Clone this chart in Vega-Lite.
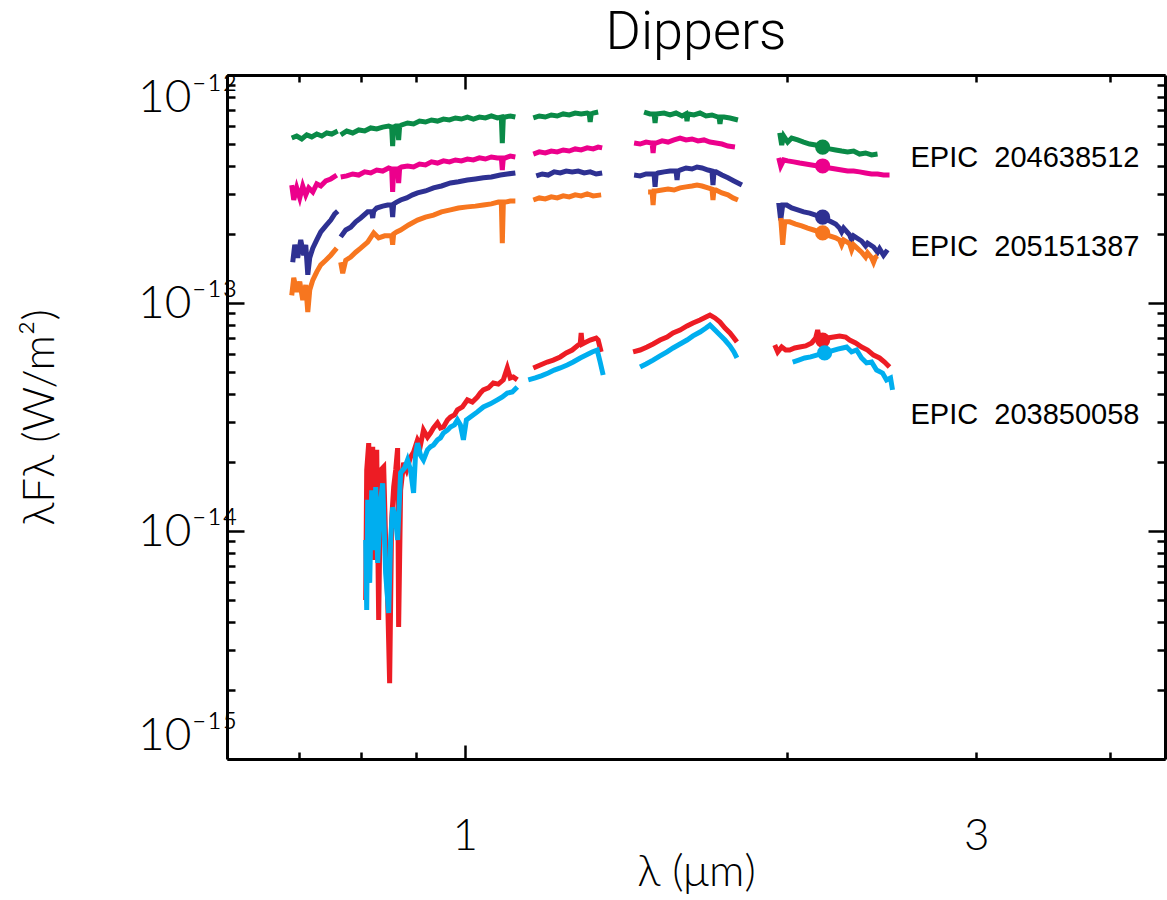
{
"$schema":"https://vega.github.io/schema/vega-lite/v6.json",
"width":938,"height":684,
"autosize":"none",
"padding":{"left":227,"top":75,"right":2,"bottom":141},
"background":"white",
"title":{"text":"Dippers","font":"Roboto","fontWeight":300,"fontSize":54,"color":"black","anchor":"middle","baseline":"alphabetic","offset":-29},
"config":{"view":{"stroke":null},"axis":{"grid":false,"labelColor":"black","tickColor":"black","domainColor":"black","titleColor":"black"}},
"datasets":{
"spec":[
{"s":"A1","g":1,"lam":0.6895,"flux":5.29e-13},{"s":"A1","g":1,"lam":0.6969,"flux":5.40e-13},{"s":"A1","g":1,"lam":0.7045,"flux":5.24e-13},{"s":"A1","g":1,"lam":0.7121,"flux":5.46e-13},{"s":"A1","g":1,"lam":0.7198,"flux":5.35e-13},{"s":"A1","g":1,"lam":0.7276,"flux":5.51e-13},{"s":"A1","g":1,"lam":0.7355,"flux":5.40e-13},{"s":"A1","g":1,"lam":0.7434,"flux":5.57e-13},{"s":"A1","g":1,"lam":0.7514,"flux":5.51e-13},{"s":"A1","g":1,"lam":0.7611,"flux":5.68e-13},
{"s":"A1","g":2,"lam":0.7660,"flux":5.46e-13},{"s":"A1","g":2,"lam":0.7760,"flux":5.68e-13},{"s":"A1","g":2,"lam":0.7860,"flux":5.57e-13},{"s":"A1","g":2,"lam":0.7962,"flux":5.74e-13},{"s":"A1","g":2,"lam":0.8065,"flux":5.68e-13},{"s":"A1","g":2,"lam":0.8170,"flux":5.86e-13},{"s":"A1","g":2,"lam":0.8276,"flux":5.80e-13},{"s":"A1","g":2,"lam":0.8383,"flux":5.91e-13},{"s":"A1","g":2,"lam":0.8491,"flux":5.97e-13},{"s":"A1","g":2,"lam":0.8546,"flux":5.91e-13},{"s":"A1","g":2,"lam":0.8564,"flux":4.88e-13},{"s":"A1","g":2,"lam":0.8583,"flux":5.91e-13},{"s":"A1","g":2,"lam":0.8620,"flux":5.97e-13},{"s":"A1","g":2,"lam":0.8656,"flux":5.97e-13},{"s":"A1","g":2,"lam":0.8675,"flux":5.19e-13},{"s":"A1","g":2,"lam":0.8694,"flux":5.97e-13},{"s":"A1","g":2,"lam":0.8731,"flux":6.04e-13},{"s":"A1","g":2,"lam":0.8843,"flux":6.16e-13},{"s":"A1","g":2,"lam":0.8958,"flux":6.10e-13},{"s":"A1","g":2,"lam":0.9073,"flux":6.28e-13},{"s":"A1","g":2,"lam":0.9190,"flux":6.22e-13},{"s":"A1","g":2,"lam":0.9309,"flux":6.35e-13},{"s":"A1","g":2,"lam":0.9430,"flux":6.28e-13},{"s":"A1","g":2,"lam":0.9552,"flux":6.41e-13},{"s":"A1","g":2,"lam":0.9675,"flux":6.35e-13},{"s":"A1","g":2,"lam":0.9801,"flux":6.48e-13},{"s":"A1","g":2,"lam":0.9927,"flux":6.41e-13},{"s":"A1","g":2,"lam":1.0056,"flux":6.54e-13},{"s":"A1","g":2,"lam":1.0186,"flux":6.41e-13},{"s":"A1","g":2,"lam":1.0318,"flux":6.54e-13},{"s":"A1","g":2,"lam":1.0452,"flux":6.48e-13},{"s":"A1","g":2,"lam":1.0587,"flux":6.61e-13},{"s":"A1","g":2,"lam":1.0724,"flux":6.48e-13},{"s":"A1","g":2,"lam":1.0816,"flux":6.54e-13},{"s":"A1","g":2,"lam":1.0839,"flux":5.03e-13},{"s":"A1","g":2,"lam":1.0863,"flux":6.54e-13},{"s":"A1","g":2,"lam":1.0909,"flux":6.54e-13},{"s":"A1","g":2,"lam":1.1026,"flux":6.61e-13},{"s":"A1","g":2,"lam":1.1147,"flux":6.54e-13},
{"s":"A1","g":3,"lam":1.1585,"flux":6.48e-13},{"s":"A1","g":3,"lam":1.1735,"flux":6.61e-13},{"s":"A1","g":3,"lam":1.1887,"flux":6.54e-13},{"s":"A1","g":3,"lam":1.2041,"flux":6.68e-13},{"s":"A1","g":3,"lam":1.2196,"flux":6.61e-13},{"s":"A1","g":3,"lam":1.2354,"flux":6.75e-13},{"s":"A1","g":3,"lam":1.2514,"flux":6.68e-13},{"s":"A1","g":3,"lam":1.2676,"flux":6.81e-13},{"s":"A1","g":3,"lam":1.2840,"flux":6.75e-13},{"s":"A1","g":3,"lam":1.3007,"flux":6.81e-13},{"s":"A1","g":3,"lam":1.3063,"flux":6.75e-13},{"s":"A1","g":3,"lam":1.3091,"flux":6.22e-13},{"s":"A1","g":3,"lam":1.3119,"flux":6.75e-13},{"s":"A1","g":3,"lam":1.3175,"flux":6.81e-13},{"s":"A1","g":3,"lam":1.3317,"flux":6.88e-13},
{"s":"A1","g":4,"lam":1.4698,"flux":6.88e-13},{"s":"A1","g":4,"lam":1.4888,"flux":6.75e-13},{"s":"A1","g":4,"lam":1.5017,"flux":6.75e-13},{"s":"A1","g":4,"lam":1.5049,"flux":6.16e-13},{"s":"A1","g":4,"lam":1.5081,"flux":6.75e-13},{"s":"A1","g":4,"lam":1.5343,"flux":6.81e-13},{"s":"A1","g":4,"lam":1.5541,"flux":6.68e-13},{"s":"A1","g":4,"lam":1.5742,"flux":6.81e-13},{"s":"A1","g":4,"lam":1.5946,"flux":6.61e-13},{"s":"A1","g":4,"lam":1.6083,"flux":6.75e-13},{"s":"A1","g":4,"lam":1.6118,"flux":6.28e-13},{"s":"A1","g":4,"lam":1.6152,"flux":6.75e-13},{"s":"A1","g":4,"lam":1.6361,"flux":6.68e-13},{"s":"A1","g":4,"lam":1.6573,"flux":6.81e-13},{"s":"A1","g":4,"lam":1.6788,"flux":6.61e-13},{"s":"A1","g":4,"lam":1.7005,"flux":6.68e-13},{"s":"A1","g":4,"lam":1.7226,"flux":6.54e-13},{"s":"A1","g":4,"lam":1.7263,"flux":6.54e-13},{"s":"A1","g":4,"lam":1.7300,"flux":6.10e-13},{"s":"A1","g":4,"lam":1.7337,"flux":6.54e-13},{"s":"A1","g":4,"lam":1.7449,"flux":6.54e-13},{"s":"A1","g":4,"lam":1.7675,"flux":6.48e-13},{"s":"A1","g":4,"lam":1.7981,"flux":6.35e-13},
{"s":"A1","g":5,"lam":1.9669,"flux":5.57e-13},{"s":"A1","g":5,"lam":1.9753,"flux":4.93e-13},{"s":"A1","g":5,"lam":1.9838,"flux":5.40e-13},{"s":"A1","g":5,"lam":2.0009,"flux":5.08e-13},{"s":"A1","g":5,"lam":2.0181,"flux":5.29e-13},{"s":"A1","g":5,"lam":2.0443,"flux":5.19e-13},{"s":"A1","g":5,"lam":2.0708,"flux":5.08e-13},{"s":"A1","g":5,"lam":2.0976,"flux":4.98e-13},{"s":"A1","g":5,"lam":2.1248,"flux":4.93e-13},{"s":"A1","g":5,"lam":2.1569,"flux":4.83e-13},{"s":"A1","g":5,"lam":2.1896,"flux":4.74e-13},{"s":"A1","g":5,"lam":2.2179,"flux":4.69e-13},{"s":"A1","g":5,"lam":2.2467,"flux":4.64e-13},{"s":"A1","g":5,"lam":2.2757,"flux":4.60e-13},{"s":"A1","g":5,"lam":2.3052,"flux":4.64e-13},{"s":"A1","g":5,"lam":2.3350,"flux":4.50e-13},{"s":"A1","g":5,"lam":2.3652,"flux":4.55e-13},{"s":"A1","g":5,"lam":2.3959,"flux":4.46e-13},{"s":"A1","g":5,"lam":2.4269,"flux":4.50e-13},
{"s":"A2","g":1,"lam":0.6895,"flux":3.29e-13},{"s":"A2","g":1,"lam":0.6925,"flux":2.83e-13},{"s":"A2","g":1,"lam":0.6969,"flux":3.20e-13},{"s":"A2","g":1,"lam":0.7015,"flux":2.89e-13},{"s":"A2","g":1,"lam":0.7060,"flux":3.26e-13},{"s":"A2","g":1,"lam":0.7106,"flux":2.98e-13},{"s":"A2","g":1,"lam":0.7152,"flux":3.20e-13},{"s":"A2","g":1,"lam":0.7214,"flux":3.07e-13},{"s":"A2","g":1,"lam":0.7276,"flux":3.33e-13},{"s":"A2","g":1,"lam":0.7339,"flux":3.26e-13},{"s":"A2","g":1,"lam":0.7418,"flux":3.43e-13},{"s":"A2","g":1,"lam":0.7498,"flux":3.50e-13},{"s":"A2","g":1,"lam":0.7595,"flux":3.64e-13},
{"s":"A2","g":2,"lam":0.7660,"flux":3.57e-13},{"s":"A2","g":2,"lam":0.7760,"flux":3.61e-13},{"s":"A2","g":2,"lam":0.7860,"flux":3.68e-13},{"s":"A2","g":2,"lam":0.7962,"flux":3.64e-13},{"s":"A2","g":2,"lam":0.8065,"flux":3.76e-13},{"s":"A2","g":2,"lam":0.8170,"flux":3.72e-13},{"s":"A2","g":2,"lam":0.8276,"flux":3.83e-13},{"s":"A2","g":2,"lam":0.8383,"flux":3.79e-13},{"s":"A2","g":2,"lam":0.8491,"flux":3.91e-13},{"s":"A2","g":2,"lam":0.8546,"flux":3.87e-13},{"s":"A2","g":2,"lam":0.8564,"flux":3.07e-13},{"s":"A2","g":2,"lam":0.8583,"flux":3.87e-13},{"s":"A2","g":2,"lam":0.8620,"flux":3.87e-13},{"s":"A2","g":2,"lam":0.8656,"flux":3.87e-13},{"s":"A2","g":2,"lam":0.8675,"flux":3.36e-13},{"s":"A2","g":2,"lam":0.8694,"flux":3.91e-13},{"s":"A2","g":2,"lam":0.8731,"flux":3.95e-13},{"s":"A2","g":2,"lam":0.8843,"flux":3.99e-13},{"s":"A2","g":2,"lam":0.8958,"flux":3.95e-13},{"s":"A2","g":2,"lam":0.9073,"flux":4.07e-13},{"s":"A2","g":2,"lam":0.9190,"flux":4.03e-13},{"s":"A2","g":2,"lam":0.9309,"flux":4.16e-13},{"s":"A2","g":2,"lam":0.9430,"flux":4.11e-13},{"s":"A2","g":2,"lam":0.9552,"flux":4.20e-13},{"s":"A2","g":2,"lam":0.9675,"flux":4.16e-13},{"s":"A2","g":2,"lam":0.9801,"flux":4.24e-13},{"s":"A2","g":2,"lam":0.9927,"flux":4.20e-13},{"s":"A2","g":2,"lam":1.0056,"flux":4.28e-13},{"s":"A2","g":2,"lam":1.0186,"flux":4.24e-13},{"s":"A2","g":2,"lam":1.0318,"flux":4.33e-13},{"s":"A2","g":2,"lam":1.0452,"flux":4.28e-13},{"s":"A2","g":2,"lam":1.0587,"flux":4.37e-13},{"s":"A2","g":2,"lam":1.0724,"flux":4.33e-13},{"s":"A2","g":2,"lam":1.0816,"flux":4.33e-13},{"s":"A2","g":2,"lam":1.0839,"flux":3.83e-13},{"s":"A2","g":2,"lam":1.0863,"flux":4.33e-13},{"s":"A2","g":2,"lam":1.0909,"flux":4.33e-13},{"s":"A2","g":2,"lam":1.1026,"flux":4.41e-13},{"s":"A2","g":2,"lam":1.1147,"flux":4.37e-13},
{"s":"A2","g":3,"lam":1.1585,"flux":4.50e-13},{"s":"A2","g":3,"lam":1.1735,"flux":4.60e-13},{"s":"A2","g":3,"lam":1.1887,"flux":4.55e-13},{"s":"A2","g":3,"lam":1.2041,"flux":4.64e-13},{"s":"A2","g":3,"lam":1.2196,"flux":4.60e-13},{"s":"A2","g":3,"lam":1.2354,"flux":4.69e-13},{"s":"A2","g":3,"lam":1.2514,"flux":4.64e-13},{"s":"A2","g":3,"lam":1.2676,"flux":4.74e-13},{"s":"A2","g":3,"lam":1.2840,"flux":4.69e-13},{"s":"A2","g":3,"lam":1.3007,"flux":4.79e-13},{"s":"A2","g":3,"lam":1.3175,"flux":4.74e-13},{"s":"A2","g":3,"lam":1.3317,"flux":4.83e-13},{"s":"A2","g":3,"lam":1.3432,"flux":4.79e-13},
{"s":"A2","g":4,"lam":1.4386,"flux":5.03e-13},{"s":"A2","g":4,"lam":1.4572,"flux":4.98e-13},{"s":"A2","g":4,"lam":1.4761,"flux":5.08e-13},{"s":"A2","g":4,"lam":1.4953,"flux":5.03e-13},{"s":"A2","g":4,"lam":1.4985,"flux":4.55e-13},{"s":"A2","g":4,"lam":1.5017,"flux":5.03e-13},{"s":"A2","g":4,"lam":1.5081,"flux":5.03e-13},{"s":"A2","g":4,"lam":1.5277,"flux":5.14e-13},{"s":"A2","g":4,"lam":1.5474,"flux":5.08e-13},{"s":"A2","g":4,"lam":1.5675,"flux":5.19e-13},{"s":"A2","g":4,"lam":1.5878,"flux":5.29e-13},{"s":"A2","g":4,"lam":1.6083,"flux":5.19e-13},{"s":"A2","g":4,"lam":1.6291,"flux":5.24e-13},{"s":"A2","g":4,"lam":1.6502,"flux":5.14e-13},{"s":"A2","g":4,"lam":1.6716,"flux":5.19e-13},{"s":"A2","g":4,"lam":1.6932,"flux":5.08e-13},{"s":"A2","g":4,"lam":1.7152,"flux":5.03e-13},{"s":"A2","g":4,"lam":1.7374,"flux":4.98e-13},{"s":"A2","g":4,"lam":1.7599,"flux":4.88e-13},{"s":"A2","g":4,"lam":1.7866,"flux":4.83e-13},
{"s":"A2","g":5,"lam":1.9627,"flux":4.33e-13},{"s":"A2","g":5,"lam":1.9711,"flux":3.99e-13},{"s":"A2","g":5,"lam":1.9838,"flux":4.24e-13},{"s":"A2","g":5,"lam":2.0009,"flux":4.20e-13},{"s":"A2","g":5,"lam":2.0268,"flux":4.16e-13},{"s":"A2","g":5,"lam":2.0531,"flux":4.11e-13},{"s":"A2","g":5,"lam":2.0797,"flux":4.07e-13},{"s":"A2","g":5,"lam":2.1066,"flux":4.03e-13},{"s":"A2","g":5,"lam":2.1339,"flux":3.99e-13},{"s":"A2","g":5,"lam":2.1569,"flux":3.99e-13},{"s":"A2","g":5,"lam":2.1896,"flux":3.91e-13},{"s":"A2","g":5,"lam":2.2179,"flux":3.87e-13},{"s":"A2","g":5,"lam":2.2467,"flux":3.83e-13},{"s":"A2","g":5,"lam":2.2757,"flux":3.79e-13},{"s":"A2","g":5,"lam":2.3052,"flux":3.79e-13},{"s":"A2","g":5,"lam":2.3350,"flux":3.76e-13},{"s":"A2","g":5,"lam":2.3652,"flux":3.72e-13},{"s":"A2","g":5,"lam":2.3959,"flux":3.68e-13},{"s":"A2","g":5,"lam":2.4269,"flux":3.68e-13},{"s":"A2","g":5,"lam":2.4583,"flux":3.64e-13},{"s":"A2","g":5,"lam":2.4901,"flux":3.64e-13},
{"s":"B1","g":1,"lam":0.6910,"flux":1.51e-13},{"s":"B1","g":1,"lam":0.6940,"flux":1.80e-13},{"s":"B1","g":1,"lam":0.6984,"flux":1.58e-13},{"s":"B1","g":1,"lam":0.7030,"flux":1.89e-13},{"s":"B1","g":1,"lam":0.7075,"flux":1.62e-13},{"s":"B1","g":1,"lam":0.7106,"flux":1.80e-13},{"s":"B1","g":1,"lam":0.7137,"flux":1.33e-13},{"s":"B1","g":1,"lam":0.7167,"flux":1.58e-13},{"s":"B1","g":1,"lam":0.7214,"flux":1.74e-13},{"s":"B1","g":1,"lam":0.7276,"flux":1.89e-13},{"s":"B1","g":1,"lam":0.7339,"flux":2.05e-13},{"s":"B1","g":1,"lam":0.7418,"flux":2.18e-13},{"s":"B1","g":1,"lam":0.7498,"flux":2.31e-13},{"s":"B1","g":1,"lam":0.7562,"flux":2.46e-13},{"s":"B1","g":1,"lam":0.7611,"flux":2.53e-13},
{"s":"B1","g":2,"lam":0.7660,"flux":1.95e-13},{"s":"B1","g":2,"lam":0.7743,"flux":2.09e-13},{"s":"B1","g":2,"lam":0.7826,"flux":2.15e-13},{"s":"B1","g":2,"lam":0.7911,"flux":2.27e-13},{"s":"B1","g":2,"lam":0.7996,"flux":2.36e-13},{"s":"B1","g":2,"lam":0.8117,"flux":2.51e-13},{"s":"B1","g":2,"lam":0.8187,"flux":2.51e-13},{"s":"B1","g":2,"lam":0.8205,"flux":2.36e-13},{"s":"B1","g":2,"lam":0.8223,"flux":2.53e-13},{"s":"B1","g":2,"lam":0.8276,"flux":2.61e-13},{"s":"B1","g":2,"lam":0.8383,"flux":2.66e-13},{"s":"B1","g":2,"lam":0.8473,"flux":2.69e-13},{"s":"B1","g":2,"lam":0.8546,"flux":2.69e-13},{"s":"B1","g":2,"lam":0.8564,"flux":2.38e-13},{"s":"B1","g":2,"lam":0.8583,"flux":2.72e-13},{"s":"B1","g":2,"lam":0.8638,"flux":2.77e-13},{"s":"B1","g":2,"lam":0.8712,"flux":2.83e-13},{"s":"B1","g":2,"lam":0.8825,"flux":2.89e-13},{"s":"B1","g":2,"lam":0.8939,"flux":2.98e-13},{"s":"B1","g":2,"lam":0.9034,"flux":3.04e-13},{"s":"B1","g":2,"lam":0.9190,"flux":3.10e-13},{"s":"B1","g":2,"lam":0.9349,"flux":3.20e-13},{"s":"B1","g":2,"lam":0.9511,"flux":3.26e-13},{"s":"B1","g":2,"lam":0.9696,"flux":3.36e-13},{"s":"B1","g":2,"lam":0.9864,"flux":3.40e-13},{"s":"B1","g":2,"lam":1.0056,"flux":3.46e-13},{"s":"B1","g":2,"lam":1.0230,"flux":3.50e-13},{"s":"B1","g":2,"lam":1.0407,"flux":3.54e-13},{"s":"B1","g":2,"lam":1.0587,"flux":3.57e-13},{"s":"B1","g":2,"lam":1.0793,"flux":3.64e-13},{"s":"B1","g":2,"lam":1.0956,"flux":3.68e-13},{"s":"B1","g":2,"lam":1.1147,"flux":3.72e-13},
{"s":"B1","g":3,"lam":1.1659,"flux":3.61e-13},{"s":"B1","g":3,"lam":1.1810,"flux":3.68e-13},{"s":"B1","g":3,"lam":1.1963,"flux":3.64e-13},{"s":"B1","g":3,"lam":1.2118,"flux":3.76e-13},{"s":"B1","g":3,"lam":1.2275,"flux":3.72e-13},{"s":"B1","g":3,"lam":1.2434,"flux":3.79e-13},{"s":"B1","g":3,"lam":1.2595,"flux":3.76e-13},{"s":"B1","g":3,"lam":1.2758,"flux":3.79e-13},{"s":"B1","g":3,"lam":1.2923,"flux":3.72e-13},{"s":"B1","g":3,"lam":1.3091,"flux":3.76e-13},{"s":"B1","g":3,"lam":1.3260,"flux":3.68e-13},{"s":"B1","g":3,"lam":1.3432,"flux":3.72e-13},
{"s":"B1","g":4,"lam":1.4386,"flux":3.64e-13},{"s":"B1","g":4,"lam":1.4572,"flux":3.61e-13},{"s":"B1","g":4,"lam":1.4761,"flux":3.68e-13},{"s":"B1","g":4,"lam":1.5017,"flux":3.68e-13},{"s":"B1","g":4,"lam":1.5049,"flux":3.23e-13},{"s":"B1","g":4,"lam":1.5081,"flux":3.68e-13},{"s":"B1","g":4,"lam":1.5146,"flux":3.72e-13},{"s":"B1","g":4,"lam":1.5343,"flux":3.76e-13},{"s":"B1","g":4,"lam":1.5541,"flux":3.79e-13},{"s":"B1","g":4,"lam":1.5742,"flux":3.79e-13},{"s":"B1","g":4,"lam":1.5776,"flux":3.46e-13},{"s":"B1","g":4,"lam":1.5810,"flux":3.79e-13},{"s":"B1","g":4,"lam":1.5878,"flux":3.83e-13},{"s":"B1","g":4,"lam":1.6083,"flux":3.91e-13},{"s":"B1","g":4,"lam":1.6291,"flux":3.87e-13},{"s":"B1","g":4,"lam":1.6467,"flux":3.95e-13},{"s":"B1","g":4,"lam":1.6644,"flux":3.91e-13},{"s":"B1","g":4,"lam":1.6860,"flux":3.83e-13},{"s":"B1","g":4,"lam":1.7005,"flux":3.79e-13},{"s":"B1","g":4,"lam":1.7042,"flux":3.29e-13},{"s":"B1","g":4,"lam":1.7079,"flux":3.76e-13},{"s":"B1","g":4,"lam":1.7152,"flux":3.76e-13},{"s":"B1","g":4,"lam":1.7374,"flux":3.64e-13},{"s":"B1","g":4,"lam":1.7599,"flux":3.54e-13},{"s":"B1","g":4,"lam":1.7827,"flux":3.43e-13},{"s":"B1","g":4,"lam":1.8135,"flux":3.29e-13},
{"s":"B1","g":5,"lam":1.9627,"flux":2.75e-13},{"s":"B1","g":5,"lam":1.9711,"flux":2.31e-13},{"s":"B1","g":5,"lam":1.9796,"flux":2.69e-13},{"s":"B1","g":5,"lam":1.9966,"flux":2.69e-13},{"s":"B1","g":5,"lam":2.0181,"flux":2.61e-13},{"s":"B1","g":5,"lam":2.0443,"flux":2.56e-13},{"s":"B1","g":5,"lam":2.0708,"flux":2.51e-13},{"s":"B1","g":5,"lam":2.0976,"flux":2.48e-13},{"s":"B1","g":5,"lam":2.1248,"flux":2.43e-13},{"s":"B1","g":5,"lam":2.1569,"flux":2.38e-13},{"s":"B1","g":5,"lam":2.1896,"flux":2.29e-13},{"s":"B1","g":5,"lam":2.2179,"flux":2.22e-13},{"s":"B1","g":5,"lam":2.2370,"flux":2.13e-13},{"s":"B1","g":5,"lam":2.2467,"flux":2.05e-13},{"s":"B1","g":5,"lam":2.2563,"flux":2.13e-13},{"s":"B1","g":5,"lam":2.2855,"flux":1.99e-13},{"s":"B1","g":5,"lam":2.2953,"flux":1.89e-13},{"s":"B1","g":5,"lam":2.3052,"flux":1.97e-13},{"s":"B1","g":5,"lam":2.3450,"flux":1.87e-13},{"s":"B1","g":5,"lam":2.3652,"flux":1.78e-13},{"s":"B1","g":5,"lam":2.3754,"flux":1.83e-13},{"s":"B1","g":5,"lam":2.4062,"flux":1.76e-13},{"s":"B1","g":5,"lam":2.4269,"flux":1.67e-13},{"s":"B1","g":5,"lam":2.4373,"flux":1.73e-13},{"s":"B1","g":5,"lam":2.4583,"flux":1.62e-13},{"s":"B1","g":5,"lam":2.4794,"flux":1.71e-13},
{"s":"B2","g":1,"lam":0.6895,"flux":1.08e-13},{"s":"B2","g":1,"lam":0.6925,"flux":1.29e-13},{"s":"B2","g":1,"lam":0.6969,"flux":1.12e-13},{"s":"B2","g":1,"lam":0.7015,"flux":1.24e-13},{"s":"B2","g":1,"lam":0.7060,"flux":1.03e-13},{"s":"B2","g":1,"lam":0.7106,"flux":1.20e-13},{"s":"B2","g":1,"lam":0.7137,"flux":9.13e-14},{"s":"B2","g":1,"lam":0.7167,"flux":1.14e-13},{"s":"B2","g":1,"lam":0.7214,"flux":1.26e-13},{"s":"B2","g":1,"lam":0.7276,"flux":1.37e-13},{"s":"B2","g":1,"lam":0.7339,"flux":1.47e-13},{"s":"B2","g":1,"lam":0.7418,"flux":1.54e-13},{"s":"B2","g":1,"lam":0.7498,"flux":1.62e-13},{"s":"B2","g":1,"lam":0.7595,"flux":1.74e-13},
{"s":"B2","g":2,"lam":0.7660,"flux":1.51e-13},{"s":"B2","g":2,"lam":0.7693,"flux":1.35e-13},{"s":"B2","g":2,"lam":0.7743,"flux":1.54e-13},{"s":"B2","g":2,"lam":0.7826,"flux":1.59e-13},{"s":"B2","g":2,"lam":0.7911,"flux":1.67e-13},{"s":"B2","g":2,"lam":0.7996,"flux":1.74e-13},{"s":"B2","g":2,"lam":0.8117,"flux":1.85e-13},{"s":"B2","g":2,"lam":0.8223,"flux":2.03e-13},{"s":"B2","g":2,"lam":0.8311,"flux":1.93e-13},{"s":"B2","g":2,"lam":0.8419,"flux":1.97e-13},{"s":"B2","g":2,"lam":0.8546,"flux":1.97e-13},{"s":"B2","g":2,"lam":0.8564,"flux":1.80e-13},{"s":"B2","g":2,"lam":0.8583,"flux":2.01e-13},{"s":"B2","g":2,"lam":0.8638,"flux":2.05e-13},{"s":"B2","g":2,"lam":0.8712,"flux":2.09e-13},{"s":"B2","g":2,"lam":0.8862,"flux":2.20e-13},{"s":"B2","g":2,"lam":0.9034,"flux":2.31e-13},{"s":"B2","g":2,"lam":0.9190,"flux":2.38e-13},{"s":"B2","g":2,"lam":0.9349,"flux":2.43e-13},{"s":"B2","g":2,"lam":0.9511,"flux":2.51e-13},{"s":"B2","g":2,"lam":0.9696,"flux":2.56e-13},{"s":"B2","g":2,"lam":0.9864,"flux":2.61e-13},{"s":"B2","g":2,"lam":1.0056,"flux":2.64e-13},{"s":"B2","g":2,"lam":1.0230,"flux":2.66e-13},{"s":"B2","g":2,"lam":1.0407,"flux":2.69e-13},{"s":"B2","g":2,"lam":1.0587,"flux":2.72e-13},{"s":"B2","g":2,"lam":1.0747,"flux":2.77e-13},{"s":"B2","g":2,"lam":1.0816,"flux":2.77e-13},{"s":"B2","g":2,"lam":1.0839,"flux":1.83e-13},{"s":"B2","g":2,"lam":1.0863,"flux":2.77e-13},{"s":"B2","g":2,"lam":1.0909,"flux":2.77e-13},{"s":"B2","g":2,"lam":1.1026,"flux":2.80e-13},{"s":"B2","g":2,"lam":1.1147,"flux":2.80e-13},
{"s":"B2","g":3,"lam":1.1585,"flux":2.83e-13},{"s":"B2","g":3,"lam":1.1735,"flux":2.89e-13},{"s":"B2","g":3,"lam":1.1887,"flux":2.86e-13},{"s":"B2","g":3,"lam":1.2041,"flux":2.92e-13},{"s":"B2","g":3,"lam":1.2196,"flux":2.89e-13},{"s":"B2","g":3,"lam":1.2354,"flux":2.95e-13},{"s":"B2","g":3,"lam":1.2514,"flux":2.92e-13},{"s":"B2","g":3,"lam":1.2676,"flux":2.98e-13},{"s":"B2","g":3,"lam":1.2840,"flux":2.95e-13},{"s":"B2","g":3,"lam":1.3007,"flux":3.01e-13},{"s":"B2","g":3,"lam":1.3175,"flux":2.95e-13},{"s":"B2","g":3,"lam":1.3403,"flux":2.98e-13},
{"s":"B2","g":4,"lam":1.4825,"flux":3.07e-13},{"s":"B2","g":4,"lam":1.4953,"flux":3.07e-13},{"s":"B2","g":4,"lam":1.4985,"flux":2.69e-13},{"s":"B2","g":4,"lam":1.5017,"flux":3.10e-13},{"s":"B2","g":4,"lam":1.5081,"flux":3.10e-13},{"s":"B2","g":4,"lam":1.5277,"flux":3.13e-13},{"s":"B2","g":4,"lam":1.5474,"flux":3.16e-13},{"s":"B2","g":4,"lam":1.5675,"flux":3.13e-13},{"s":"B2","g":4,"lam":1.5878,"flux":3.20e-13},{"s":"B2","g":4,"lam":1.6083,"flux":3.23e-13},{"s":"B2","g":4,"lam":1.6291,"flux":3.26e-13},{"s":"B2","g":4,"lam":1.6467,"flux":3.29e-13},{"s":"B2","g":4,"lam":1.6644,"flux":3.26e-13},{"s":"B2","g":4,"lam":1.6860,"flux":3.20e-13},{"s":"B2","g":4,"lam":1.7005,"flux":3.16e-13},{"s":"B2","g":4,"lam":1.7042,"flux":2.83e-13},{"s":"B2","g":4,"lam":1.7079,"flux":3.13e-13},{"s":"B2","g":4,"lam":1.7152,"flux":3.13e-13},{"s":"B2","g":4,"lam":1.7374,"flux":3.04e-13},{"s":"B2","g":4,"lam":1.7599,"flux":2.98e-13},{"s":"B2","g":4,"lam":1.7789,"flux":2.89e-13},{"s":"B2","g":4,"lam":1.7981,"flux":2.83e-13},
{"s":"B2","g":5,"lam":1.9711,"flux":2.36e-13},{"s":"B2","g":5,"lam":1.9796,"flux":1.80e-13},{"s":"B2","g":5,"lam":1.9881,"flux":2.27e-13},{"s":"B2","g":5,"lam":2.0095,"flux":2.27e-13},{"s":"B2","g":5,"lam":2.0355,"flux":2.22e-13},{"s":"B2","g":5,"lam":2.0619,"flux":2.18e-13},{"s":"B2","g":5,"lam":2.0886,"flux":2.13e-13},{"s":"B2","g":5,"lam":2.1157,"flux":2.09e-13},{"s":"B2","g":5,"lam":2.1569,"flux":2.03e-13},{"s":"B2","g":5,"lam":2.1896,"flux":1.97e-13},{"s":"B2","g":5,"lam":2.2179,"flux":1.93e-13},{"s":"B2","g":5,"lam":2.2370,"flux":1.89e-13},{"s":"B2","g":5,"lam":2.2467,"flux":1.80e-13},{"s":"B2","g":5,"lam":2.2563,"flux":1.89e-13},{"s":"B2","g":5,"lam":2.2855,"flux":1.82e-13},{"s":"B2","g":5,"lam":2.2953,"flux":1.71e-13},{"s":"B2","g":5,"lam":2.3052,"flux":1.80e-13},{"s":"B2","g":5,"lam":2.3450,"flux":1.67e-13},{"s":"B2","g":5,"lam":2.3652,"flux":1.59e-13},{"s":"B2","g":5,"lam":2.3754,"flux":1.66e-13},{"s":"B2","g":5,"lam":2.3959,"flux":1.58e-13},{"s":"B2","g":5,"lam":2.4062,"flux":1.51e-13},{"s":"B2","g":5,"lam":2.4166,"flux":1.59e-13},{"s":"B2","g":5,"lam":2.4269,"flux":1.61e-13},
{"s":"C1","g":1,"lam":0.8082,"flux":4.98e-15},{"s":"C1","g":1,"lam":0.8100,"flux":1.85e-14},{"s":"C1","g":1,"lam":0.8135,"flux":2.43e-14},{"s":"C1","g":1,"lam":0.8170,"flux":1.12e-14},{"s":"C1","g":1,"lam":0.8205,"flux":2.34e-14},{"s":"C1","g":1,"lam":0.8240,"flux":7.46e-15},{"s":"C1","g":1,"lam":0.8276,"flux":2.27e-14},{"s":"C1","g":1,"lam":0.8311,"flux":4.07e-15},{"s":"C1","g":1,"lam":0.8347,"flux":1.85e-14},{"s":"C1","g":1,"lam":0.8401,"flux":1.91e-14},{"s":"C1","g":1,"lam":0.8436,"flux":9.13e-15},{"s":"C1","g":1,"lam":0.8473,"flux":4.98e-15},{"s":"C1","g":1,"lam":0.8509,"flux":2.15e-15},{"s":"C1","g":1,"lam":0.8546,"flux":1.12e-14},{"s":"C1","g":1,"lam":0.8583,"flux":1.56e-14},{"s":"C1","g":1,"lam":0.8620,"flux":1.85e-14},{"s":"C1","g":1,"lam":0.8656,"flux":2.31e-14},{"s":"C1","g":1,"lam":0.8675,"flux":3.79e-15},{"s":"C1","g":1,"lam":0.8712,"flux":1.51e-14},{"s":"C1","g":1,"lam":0.8768,"flux":1.99e-14},{"s":"C1","g":1,"lam":0.8825,"flux":1.85e-14},{"s":"C1","g":1,"lam":0.8900,"flux":2.11e-14},{"s":"C1","g":1,"lam":0.8958,"flux":2.22e-14},{"s":"C1","g":1,"lam":0.9034,"flux":2.51e-14},{"s":"C1","g":1,"lam":0.9092,"flux":2.38e-14},{"s":"C1","g":1,"lam":0.9151,"flux":2.77e-14},{"s":"C1","g":1,"lam":0.9230,"flux":2.58e-14},{"s":"C1","g":1,"lam":0.9289,"flux":2.69e-14},{"s":"C1","g":1,"lam":0.9349,"flux":2.83e-14},{"s":"C1","g":1,"lam":0.9430,"flux":2.98e-14},{"s":"C1","g":1,"lam":0.9490,"flux":2.83e-14},{"s":"C1","g":1,"lam":0.9552,"flux":2.86e-14},{"s":"C1","g":1,"lam":0.9634,"flux":3.07e-14},{"s":"C1","g":1,"lam":0.9696,"flux":3.16e-14},{"s":"C1","g":1,"lam":0.9780,"flux":3.23e-14},{"s":"C1","g":1,"lam":0.9843,"flux":3.40e-14},{"s":"C1","g":1,"lam":0.9949,"flux":3.50e-14},{"s":"C1","g":1,"lam":1.0056,"flux":3.76e-14},{"s":"C1","g":1,"lam":1.0164,"flux":3.68e-14},{"s":"C1","g":1,"lam":1.0274,"flux":3.87e-14},{"s":"C1","g":1,"lam":1.0340,"flux":4.03e-14},{"s":"C1","g":1,"lam":1.0407,"flux":4.16e-14},{"s":"C1","g":1,"lam":1.0519,"flux":4.24e-14},{"s":"C1","g":1,"lam":1.0632,"flux":4.46e-14},{"s":"C1","g":1,"lam":1.0747,"flux":4.41e-14},{"s":"C1","g":1,"lam":1.0863,"flux":4.60e-14},{"s":"C1","g":1,"lam":1.0956,"flux":5.19e-14},{"s":"C1","g":1,"lam":1.1026,"flux":4.69e-14},{"s":"C1","g":1,"lam":1.1097,"flux":4.74e-14},{"s":"C1","g":1,"lam":1.1194,"flux":4.60e-14},
{"s":"C1","g":2,"lam":1.1585,"flux":5.19e-14},{"s":"C1","g":2,"lam":1.1760,"flux":5.35e-14},{"s":"C1","g":2,"lam":1.1938,"flux":5.51e-14},{"s":"C1","g":2,"lam":1.2092,"flux":5.62e-14},{"s":"C1","g":2,"lam":1.2275,"flux":5.80e-14},{"s":"C1","g":2,"lam":1.2434,"flux":6.04e-14},{"s":"C1","g":2,"lam":1.2595,"flux":6.22e-14},{"s":"C1","g":2,"lam":1.2758,"flux":6.54e-14},{"s":"C1","g":2,"lam":1.2813,"flux":6.61e-14},{"s":"C1","g":2,"lam":1.2840,"flux":7.39e-14},{"s":"C1","g":2,"lam":1.2868,"flux":6.61e-14},{"s":"C1","g":2,"lam":1.2923,"flux":6.68e-14},{"s":"C1","g":2,"lam":1.3091,"flux":6.88e-14},{"s":"C1","g":2,"lam":1.3260,"flux":7.02e-14},{"s":"C1","g":2,"lam":1.3317,"flux":6.88e-14},{"s":"C1","g":2,"lam":1.3403,"flux":6.10e-14},
{"s":"C1","g":3,"lam":1.4355,"flux":6.10e-14},{"s":"C1","g":3,"lam":1.4572,"flux":6.22e-14},{"s":"C1","g":3,"lam":1.4793,"flux":6.41e-14},{"s":"C1","g":3,"lam":1.4985,"flux":6.61e-14},{"s":"C1","g":3,"lam":1.5211,"flux":6.88e-14},{"s":"C1","g":3,"lam":1.5441,"flux":7.09e-14},{"s":"C1","g":3,"lam":1.5641,"flux":7.39e-14},{"s":"C1","g":3,"lam":1.5878,"flux":7.61e-14},{"s":"C1","g":3,"lam":1.6118,"flux":7.93e-14},{"s":"C1","g":3,"lam":1.6326,"flux":8.17e-14},{"s":"C1","g":3,"lam":1.6573,"flux":8.42e-14},{"s":"C1","g":3,"lam":1.6788,"flux":8.68e-14},{"s":"C1","g":3,"lam":1.6932,"flux":8.86e-14},{"s":"C1","g":3,"lam":1.7115,"flux":8.60e-14},{"s":"C1","g":3,"lam":1.7300,"flux":8.25e-14},{"s":"C1","g":3,"lam":1.7486,"flux":7.77e-14},{"s":"C1","g":3,"lam":1.7675,"flux":7.39e-14},{"s":"C1","g":3,"lam":1.7827,"flux":7.02e-14},{"s":"C1","g":3,"lam":1.7942,"flux":6.74e-14},
{"s":"C1","g":4,"lam":1.9460,"flux":6.54e-14},{"s":"C1","g":4,"lam":1.9585,"flux":6.10e-14},{"s":"C1","g":4,"lam":1.9753,"flux":6.41e-14},{"s":"C1","g":4,"lam":1.9923,"flux":6.22e-14},{"s":"C1","g":4,"lam":2.0095,"flux":6.22e-14},{"s":"C1","g":4,"lam":2.0312,"flux":6.35e-14},{"s":"C1","g":4,"lam":2.0531,"flux":6.41e-14},{"s":"C1","g":4,"lam":2.0797,"flux":6.48e-14},{"s":"C1","g":4,"lam":2.1066,"flux":6.68e-14},{"s":"C1","g":4,"lam":2.1248,"flux":7.02e-14},{"s":"C1","g":4,"lam":2.1339,"flux":7.61e-14},{"s":"C1","g":4,"lam":2.1431,"flux":6.88e-14},{"s":"C1","g":4,"lam":2.1569,"flux":6.88e-14},{"s":"C1","g":4,"lam":2.1802,"flux":7.02e-14},{"s":"C1","g":4,"lam":2.2084,"flux":7.09e-14},{"s":"C1","g":4,"lam":2.2370,"flux":7.17e-14},{"s":"C1","g":4,"lam":2.2660,"flux":7.09e-14},{"s":"C1","g":4,"lam":2.2855,"flux":6.88e-14},{"s":"C1","g":4,"lam":2.3151,"flux":6.68e-14},{"s":"C1","g":4,"lam":2.3450,"flux":6.41e-14},{"s":"C1","g":4,"lam":2.3754,"flux":6.22e-14},{"s":"C1","g":4,"lam":2.4062,"flux":5.91e-14},{"s":"C1","g":4,"lam":2.4373,"flux":5.74e-14},{"s":"C1","g":4,"lam":2.4636,"flux":5.51e-14},{"s":"C1","g":4,"lam":2.4901,"flux":5.24e-14},
{"s":"C2","g":1,"lam":0.8082,"flux":9.13e-15},{"s":"C2","g":1,"lam":0.8100,"flux":4.50e-15},{"s":"C2","g":1,"lam":0.8117,"flux":1.37e-14},{"s":"C2","g":1,"lam":0.8152,"flux":5.92e-15},{"s":"C2","g":1,"lam":0.8187,"flux":1.51e-14},{"s":"C2","g":1,"lam":0.8223,"flux":8.25e-15},{"s":"C2","g":1,"lam":0.8258,"flux":1.56e-14},{"s":"C2","g":1,"lam":0.8293,"flux":7.24e-15},{"s":"C2","g":1,"lam":0.8347,"flux":1.37e-14},{"s":"C2","g":1,"lam":0.8383,"flux":1.62e-14},{"s":"C2","g":1,"lam":0.8436,"flux":6.54e-15},{"s":"C2","g":1,"lam":0.8491,"flux":4.37e-15},{"s":"C2","g":1,"lam":0.8527,"flux":9.13e-15},{"s":"C2","g":1,"lam":0.8564,"flux":1.27e-14},{"s":"C2","g":1,"lam":0.8620,"flux":1.12e-14},{"s":"C2","g":1,"lam":0.8656,"flux":9.13e-15},{"s":"C2","g":1,"lam":0.8712,"flux":1.80e-14},{"s":"C2","g":1,"lam":0.8787,"flux":1.89e-14},{"s":"C2","g":1,"lam":0.8843,"flux":2.05e-14},{"s":"C2","g":1,"lam":0.8900,"flux":1.85e-14},{"s":"C2","g":1,"lam":0.8958,"flux":1.47e-14},{"s":"C2","g":1,"lam":0.8995,"flux":2.15e-14},{"s":"C2","g":1,"lam":0.9034,"flux":2.43e-14},{"s":"C2","g":1,"lam":0.9092,"flux":2.15e-14},{"s":"C2","g":1,"lam":0.9151,"flux":2.05e-14},{"s":"C2","g":1,"lam":0.9230,"flux":2.27e-14},{"s":"C2","g":1,"lam":0.9289,"flux":2.34e-14},{"s":"C2","g":1,"lam":0.9349,"flux":2.38e-14},{"s":"C2","g":1,"lam":0.9430,"flux":2.51e-14},{"s":"C2","g":1,"lam":0.9490,"flux":2.56e-14},{"s":"C2","g":1,"lam":0.9552,"flux":2.69e-14},{"s":"C2","g":1,"lam":0.9634,"flux":2.77e-14},{"s":"C2","g":1,"lam":0.9696,"flux":2.86e-14},{"s":"C2","g":1,"lam":0.9780,"flux":2.92e-14},{"s":"C2","g":1,"lam":0.9843,"flux":3.07e-14},{"s":"C2","g":1,"lam":0.9906,"flux":2.92e-14},{"s":"C2","g":1,"lam":0.9970,"flux":2.51e-14},{"s":"C2","g":1,"lam":1.0034,"flux":3.07e-14},{"s":"C2","g":1,"lam":1.0121,"flux":3.16e-14},{"s":"C2","g":1,"lam":1.0274,"flux":3.33e-14},{"s":"C2","g":1,"lam":1.0407,"flux":3.50e-14},{"s":"C2","g":1,"lam":1.0564,"flux":3.61e-14},{"s":"C2","g":1,"lam":1.0724,"flux":3.76e-14},{"s":"C2","g":1,"lam":1.0839,"flux":3.87e-14},{"s":"C2","g":1,"lam":1.0956,"flux":4.03e-14},{"s":"C2","g":1,"lam":1.1074,"flux":4.07e-14},{"s":"C2","g":1,"lam":1.1194,"flux":4.28e-14},
{"s":"C2","g":2,"lam":1.1461,"flux":4.60e-14},{"s":"C2","g":2,"lam":1.1635,"flux":4.69e-14},{"s":"C2","g":2,"lam":1.1785,"flux":4.79e-14},{"s":"C2","g":2,"lam":1.1963,"flux":4.93e-14},{"s":"C2","g":2,"lam":1.2118,"flux":5.08e-14},{"s":"C2","g":2,"lam":1.2275,"flux":5.19e-14},{"s":"C2","g":2,"lam":1.2461,"flux":5.35e-14},{"s":"C2","g":2,"lam":1.2622,"flux":5.51e-14},{"s":"C2","g":2,"lam":1.2813,"flux":5.74e-14},{"s":"C2","g":2,"lam":1.2979,"flux":5.91e-14},{"s":"C2","g":2,"lam":1.3147,"flux":6.10e-14},{"s":"C2","g":2,"lam":1.3289,"flux":6.22e-14},{"s":"C2","g":2,"lam":1.3374,"flux":5.51e-14},{"s":"C2","g":2,"lam":1.3461,"flux":4.83e-14},
{"s":"C2","g":3,"lam":1.4572,"flux":5.24e-14},{"s":"C2","g":3,"lam":1.4761,"flux":5.40e-14},{"s":"C2","g":3,"lam":1.4985,"flux":5.62e-14},{"s":"C2","g":3,"lam":1.5211,"flux":5.86e-14},{"s":"C2","g":3,"lam":1.5441,"flux":6.10e-14},{"s":"C2","g":3,"lam":1.5641,"flux":6.35e-14},{"s":"C2","g":3,"lam":1.5878,"flux":6.61e-14},{"s":"C2","g":3,"lam":1.6118,"flux":6.88e-14},{"s":"C2","g":3,"lam":1.6326,"flux":7.17e-14},{"s":"C2","g":3,"lam":1.6573,"flux":7.46e-14},{"s":"C2","g":3,"lam":1.6788,"flux":7.77e-14},{"s":"C2","g":3,"lam":1.6932,"flux":8.01e-14},{"s":"C2","g":3,"lam":1.7115,"flux":7.61e-14},{"s":"C2","g":3,"lam":1.7300,"flux":7.24e-14},{"s":"C2","g":3,"lam":1.7486,"flux":6.88e-14},{"s":"C2","g":3,"lam":1.7675,"flux":6.48e-14},{"s":"C2","g":3,"lam":1.7827,"flux":6.10e-14},{"s":"C2","g":3,"lam":1.7942,"flux":5.74e-14},
{"s":"C2","g":4,"lam":2.0225,"flux":5.51e-14},{"s":"C2","g":4,"lam":2.0487,"flux":5.62e-14},{"s":"C2","g":4,"lam":2.0752,"flux":5.74e-14},{"s":"C2","g":4,"lam":2.1021,"flux":5.80e-14},{"s":"C2","g":4,"lam":2.1293,"flux":5.91e-14},{"s":"C2","g":4,"lam":2.1662,"flux":6.04e-14},{"s":"C2","g":4,"lam":2.1990,"flux":6.16e-14},{"s":"C2","g":4,"lam":2.2275,"flux":6.28e-14},{"s":"C2","g":4,"lam":2.2515,"flux":6.35e-14},{"s":"C2","g":4,"lam":2.2709,"flux":6.41e-14},{"s":"C2","g":4,"lam":2.2953,"flux":6.10e-14},{"s":"C2","g":4,"lam":2.3201,"flux":6.22e-14},{"s":"C2","g":4,"lam":2.3450,"flux":5.74e-14},{"s":"C2","g":4,"lam":2.3703,"flux":5.46e-14},{"s":"C2","g":4,"lam":2.3959,"flux":5.51e-14},{"s":"C2","g":4,"lam":2.4217,"flux":5.08e-14},{"s":"C2","g":4,"lam":2.4531,"flux":4.93e-14},{"s":"C2","g":4,"lam":2.4741,"flux":4.60e-14},{"s":"C2","g":4,"lam":2.4955,"flux":4.69e-14},{"s":"C2","g":4,"lam":2.5062,"flux":4.16e-14}
],
"dots":[
{"s":"A1","lam":2.157,"flux":4.83e-13},{"s":"A2","lam":2.157,"flux":3.99e-13},{"s":"B1","lam":2.157,"flux":2.38e-13},{"s":"B2","lam":2.157,"flux":2.03e-13},{"s":"C1","lam":2.157,"flux":6.88e-14},{"s":"C2","lam":2.166,"flux":6.04e-14}
],
"labels":[
{"label":"EPIC\u00a0\u00a0204638512","lam":2.605,"flux":4.33e-13},{"label":"EPIC\u00a0\u00a0205151387","lam":2.605,"flux":1.76e-13},{"label":"EPIC\u00a0\u00a0203850058","lam":2.605,"flux":3.23e-14}
]
},
"layer":[
{"data":{"name":"spec"},
 "mark":{"type":"line","strokeWidth":5,"clip":true},
 "encoding":{
  "x":{"field":"lam","type":"quantitative","scale":{"type":"log","domain":[0.6,4.5],"nice":false},
   "axis":{"orient":"bottom","values":[1],"tickSize":-14,"tickWidth":2.5,"domainWidth":3,"labelExpr":"'1'","labelFont":"Lato","labelFontWeight":300,"labelFontSize":44,"labelPadding":104,"labelBaseline":"alphabetic","labelFlush":false,"title":"λ (μm)","titleFont":"Lato","titleFontWeight":300,"titleFontSize":44,"titleY":126,"titleBaseline":"alphabetic"}},
  "y":{"field":"flux","type":"quantitative","scale":{"type":"log","domain":[1e-15,1e-12],"nice":false},
   "axis":{"orient":"left","values":[1e-15,1e-14,1e-13,1e-12],"tickSize":-17,"tickWidth":2.5,"domainWidth":3,"labelExpr":"datum.value > 5e-13 ? '10⁻¹²' : datum.value > 5e-14 ? '10⁻¹³' : datum.value > 5e-15 ? '10⁻¹⁴' : '10⁻¹⁵'","labelFont":"Lato","labelFontWeight":300,"labelFontSize":46,"labelPadding":7,"labelFlush":true,"title":"λFλ (W/m²)","titleFont":"Lato","titleFontWeight":300,"titleFontSize":44,"titleX":-174,"titleY":342,"titleAngle":-90,"titleBaseline":"alphabetic"}},
  "color":{"field":"s","type":"nominal","scale":{"domain":["A1","A2","B1","B2","C1","C2"],"range":["#0A8A47","#EC008C","#2E3192","#F7761F","#ED1C24","#00AEEF"]},"legend":null},
  "detail":{"field":"g","type":"nominal"}
 }},
{"data":{"name":"dots"},
 "mark":{"type":"point","filled":true,"opacity":1,"size":230},
 "encoding":{
  "x":{"field":"lam","type":"quantitative","axis":{"orient":"bottom","values":[0.7,0.8,0.9,2,3,4],"tickSize":-7,"tickWidth":2.5,"domain":false,"labelExpr":"datum.value == 3 ? '3' : ''","labelFont":"Lato","labelFontWeight":300,"labelFontSize":44,"labelPadding":97,"labelBaseline":"alphabetic","labelFlush":false,"title":null}},
  "y":{"field":"flux","type":"quantitative","axis":{"orient":"left","values":[2e-15,3e-15,4e-15,5e-15,6e-15,7e-15,8e-15,9e-15,2e-14,3e-14,4e-14,5e-14,6e-14,7e-14,8e-14,9e-14,2e-13,3e-13,4e-13,5e-13,6e-13,7e-13,8e-13,9e-13],"tickSize":-8,"tickWidth":2.5,"domain":false,"labels":false,"title":null}},
  "color":{"field":"s","type":"nominal","legend":null}
 }},
{"data":{"name":"labels"},
 "mark":{"type":"text","align":"left","baseline":"middle","font":"Liberation Sans","fontSize":29,"color":"black"},
 "encoding":{
  "x":{"field":"lam","type":"quantitative","axis":{"orient":"top","values":[1],"tickSize":-14,"tickWidth":2.5,"domainWidth":3,"labels":false,"title":null}},
  "y":{"field":"flux","type":"quantitative","axis":{"orient":"right","values":[1e-15,1e-14,1e-13,1e-12],"tickSize":-17,"tickWidth":2.5,"domainWidth":3,"labels":false,"title":null}},
  "text":{"field":"label"}
 }},
{"data":{"name":"labels"},
 "mark":{"type":"point","opacity":0},
 "encoding":{
  "x":{"field":"lam","type":"quantitative","axis":{"orient":"top","values":[0.7,0.8,0.9,2,3,4],"tickSize":-7,"tickWidth":2.5,"domain":false,"labels":false,"title":null}},
  "y":{"field":"flux","type":"quantitative","axis":{"orient":"right","values":[2e-15,3e-15,4e-15,5e-15,6e-15,7e-15,8e-15,9e-15,2e-14,3e-14,4e-14,5e-14,6e-14,7e-14,8e-14,9e-14,2e-13,3e-13,4e-13,5e-13,6e-13,7e-13,8e-13,9e-13],"tickSize":-8,"tickWidth":2.5,"domain":false,"labels":false,"title":null}}
 }}
],
"resolve":{"scale":{"x":"shared","y":"shared"},"axis":{"x":"independent","y":"independent"}}
}
